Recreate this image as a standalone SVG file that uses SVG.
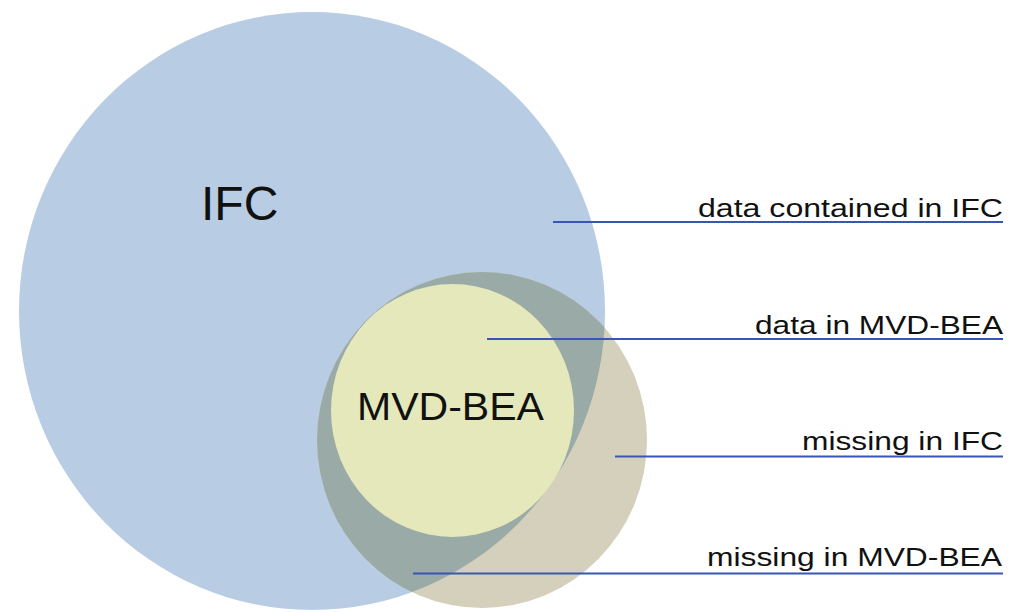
<svg xmlns="http://www.w3.org/2000/svg" width="1017" height="613" viewBox="0 0 1017 613">
<style>
.lbl{font-family:"Liberation Sans",Arial,sans-serif;font-size:26px;fill:#111;text-anchor:start}
.big{font-family:"Liberation Sans",Arial,sans-serif;fill:#111}
.con{stroke:#3a56b4;stroke-width:2;fill:none}
</style>
<defs>
<clipPath id="ifcClip"><ellipse cx="312" cy="311" rx="293" ry="299"/></clipPath>
</defs>
<rect width="1017" height="613" fill="#ffffff"/>
<g id="ifc">
<ellipse cx="312" cy="311" rx="293" ry="299" fill="#b8cce4"/>
</g>
<g id="missing">
<ellipse cx="482" cy="440" rx="165" ry="168" fill="#d5d0bb"/>
<ellipse cx="482" cy="440" rx="165" ry="168" fill="#9aaba7" clip-path="url(#ifcClip)"/>
</g>
<g id="mvd-bea">
<ellipse cx="452.5" cy="410.5" rx="121.5" ry="126.5" fill="#e4e8bb"/>
</g>
<g id="ifc-label"><text class="big" x="201" y="220" font-size="48">IFC</text></g>
<g id="mvd-label"><text class="big" x="357" y="420" font-size="38" textLength="187" lengthAdjust="spacingAndGlyphs">MVD-BEA</text></g>
<g id="connectors">
<line class="con" x1="553" y1="222" x2="1003" y2="222"/>
<line class="con" x1="487" y1="339" x2="1003" y2="339"/>
<line class="con" x1="615" y1="456.5" x2="1003" y2="456.5"/>
<line class="con" x1="413" y1="573.5" x2="1003" y2="573.5"/>
</g>
<g id="labels">
<text class="lbl" x="698" y="217" textLength="305" lengthAdjust="spacingAndGlyphs">data contained in IFC</text>
<text class="lbl" x="755" y="334" textLength="248" lengthAdjust="spacingAndGlyphs">data in MVD-BEA</text>
<text class="lbl" x="802" y="450" textLength="201" lengthAdjust="spacingAndGlyphs">missing in IFC</text>
<text class="lbl" x="707" y="566" textLength="295" lengthAdjust="spacingAndGlyphs">missing in MVD-BEA</text>
</g>
</svg>
